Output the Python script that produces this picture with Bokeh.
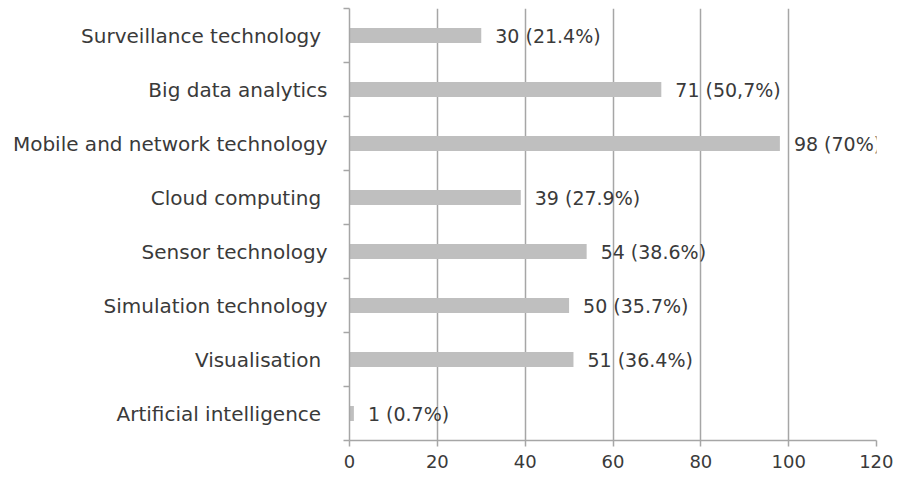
from bokeh.plotting import figure
from bokeh.models import Range1d, FixedTicker, ColumnDataSource
from bokeh.core.properties import value
from bokeh.embed import file_html
from bokeh.resources import INLINE

# Data (top to bottom as in the chart)
categories = ["Surveillance technology ", "Big data analytics", "Mobile and network technology",
              "Cloud computing ", "Sensor technology", "Simulation technology",
              "Visualisation ", "Artificial intelligence "]
counts = [30, 71, 98, 39, 54, 50, 51, 1]
value_labels = ["30 (21.4%)", "71 (50,7%)", "98 (70%)", "39 (27.9%)", "54 (38.6%)",
                "50 (35.7%)", "51 (36.4%)", "1 (0.7%)"]
x_ticks = [0, 20, 40, 60, 80, 100, 120]

n = len(categories)
ypos = [n - i - 0.5 for i in range(n)]

FONT = "DejaVu Sans"
TEXT = "#3a3a3a"
GRID = "#a6a6a6"

src = ColumnDataSource(dict(y=ypos, v=counts, lab=value_labels))

p = figure(width=893, height=476, output_backend="svg", toolbar_location=None,
           x_range=Range1d(0, 120), y_range=Range1d(0, n),
           min_border_left=349, min_border_right=17, min_border_top=8, min_border_bottom=36)
p.outline_line_color = None
p.background_fill_color = "white"

p.hbar(y="y", right="v", left=0, height=0.28, source=src, color="#bfbfbf", line_color=None)
p.text(x="v", y="y", text="lab", source=src, x_offset=14, text_baseline="middle",
       text_align="left", text_font=value(FONT), text_font_size="19px", text_color=TEXT)

# x axis
p.xaxis.ticker = FixedTicker(ticks=x_ticks)
p.xaxis.axis_line_color = GRID
p.xaxis.axis_line_width = 1.5
p.xaxis.major_tick_line_color = GRID
p.xaxis.major_tick_line_width = 1.5
p.xaxis.major_tick_out = 6
p.xaxis.major_tick_in = 0
p.xaxis.minor_tick_line_color = None
p.xaxis.major_label_standoff = 8
p.xaxis.major_label_text_font = FONT
p.xaxis.major_label_text_font_size = "18px"
p.xaxis.major_label_text_color = TEXT

# y axis with labels at bar centres and tick marks between categories
p.yaxis.ticker = FixedTicker(ticks=ypos, minor_ticks=list(range(n + 1)))
p.yaxis.major_label_overrides = {y: c for y, c in zip(ypos, categories)}
p.yaxis.axis_line_color = GRID
p.yaxis.axis_line_width = 1.5
p.yaxis.major_tick_line_color = None
p.yaxis.major_tick_out = 0
p.yaxis.major_tick_in = 0
p.yaxis.minor_tick_line_color = GRID
p.yaxis.minor_tick_line_width = 1.5
p.yaxis.minor_tick_out = 6
p.yaxis.minor_tick_in = 0
p.yaxis.major_label_standoff = 16
p.yaxis.major_label_text_font = FONT
p.yaxis.major_label_text_font_size = "20px"
p.yaxis.major_label_text_color = TEXT

p.xgrid.ticker = FixedTicker(ticks=x_ticks[1:])
p.xgrid.grid_line_color = GRID
p.xgrid.grid_line_width = 1.5
p.ygrid.grid_line_color = None

open("out.html", "w").write(file_html(p, INLINE))
